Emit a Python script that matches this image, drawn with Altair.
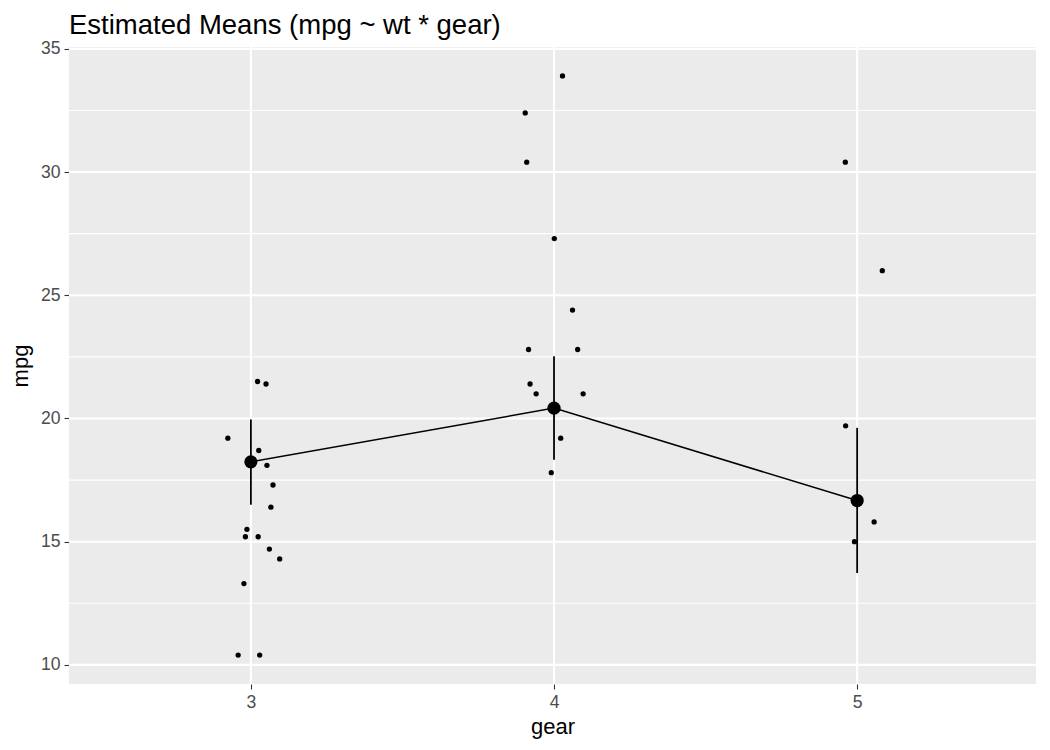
import altair as alt
import pandas as pd

# raw (jittered) observations
pt_gear = [2.924, 3.022, 3.050, 3.026, 3.053, 3.073, 3.066, 2.987, 2.982, 3.024, 3.061, 3.095, 2.977, 2.958, 3.029,
           4.028, 3.905, 3.910, 4.001, 4.061, 3.916, 4.078, 3.921, 3.941, 4.096, 4.022, 3.991,
           4.961, 5.083, 4.962, 5.056, 4.991]
pt_mpg = [19.2, 21.5, 21.4, 18.7, 18.1, 17.3, 16.4, 15.5, 15.2, 15.2, 14.7, 14.3, 13.3, 10.4, 10.4,
          33.9, 32.4, 30.4, 27.3, 24.4, 22.8, 22.8, 21.4, 21.0, 21.0, 19.2, 17.8,
          30.4, 26.0, 19.7, 15.8, 15.0]

# estimated means
m_gear = [3, 4, 5]
m_mean = [18.24, 20.42, 16.67]
m_low = [16.50, 18.33, 13.73]
m_high = [19.96, 22.53, 19.62]

y_major = [10, 15, 20, 25, 30, 35]
y_minor = [12.5, 17.5, 22.5, 27.5, 32.5]
x_major = [3, 4, 5]

pts = pd.DataFrame({"gear": pt_gear, "mpg": pt_mpg})
means = pd.DataFrame({"gear": m_gear, "mpg": m_mean, "lo": m_low, "hi": m_high})

xdom = [2.4, 5.59]
ydom = [9.225, 35.075]
xs = alt.Scale(domain=xdom, nice=False, zero=False)
ys = alt.Scale(domain=ydom, nice=False, zero=False)

FONT = "Liberation Sans"
xaxis = alt.Axis(values=x_major, format="d", grid=False, domain=False, tickColor="#333333", tickSize=5,
                 tickWidth=1.1, labelColor="#4d4d4d", labelFontSize=17.6, labelFont=FONT, labelPadding=4,
                 title="gear", titleFont=FONT, titleFontSize=22, titleFontWeight="normal",
                 titleColor="black", titlePadding=6)
yaxis = alt.Axis(values=y_major, format="d", grid=False, domain=False, tickColor="#333333", tickSize=5,
                 tickWidth=1.1, labelColor="#4d4d4d", labelFontSize=17.6, labelFont=FONT, labelPadding=4,
                 title="mpg", titleFont=FONT, titleFontSize=22, titleFontWeight="normal",
                 titleColor="black", titlePadding=8)

ymin_df = pd.DataFrame({"v": y_minor})
ymaj_df = pd.DataFrame({"v": y_major})
xmaj_df = pd.DataFrame({"v": x_major})

g1 = alt.Chart(ymin_df).mark_rule(color="white", strokeWidth=1.1).encode(y=alt.Y("v:Q", scale=ys, axis=yaxis))
g3 = alt.Chart(ymaj_df).mark_rule(color="white", strokeWidth=2.1).encode(y=alt.Y("v:Q", scale=ys))
g4 = alt.Chart(xmaj_df).mark_rule(color="white", strokeWidth=2.1).encode(x=alt.X("v:Q", scale=xs, axis=xaxis))

dots = alt.Chart(pts).mark_circle(color="black", opacity=1, size=28).encode(
    x=alt.X("gear:Q", scale=xs), y=alt.Y("mpg:Q", scale=ys))
line = alt.Chart(means).mark_line(color="black", strokeWidth=1.5).encode(
    x=alt.X("gear:Q", scale=xs), y=alt.Y("mpg:Q", scale=ys))
err = alt.Chart(means).mark_rule(color="black", strokeWidth=1.8).encode(
    x=alt.X("gear:Q", scale=xs), y=alt.Y("lo:Q", scale=ys), y2="hi:Q")
mpts = alt.Chart(means).mark_circle(color="black", opacity=1, size=175).encode(
    x=alt.X("gear:Q", scale=xs), y=alt.Y("mpg:Q", scale=ys))

chart = alt.layer(g1, g3, g4, err, line, dots, mpts).properties(
    width=967, height=637,
    background="white",
    autosize=alt.AutoSizeParams(type="none"),
    padding={"left": 61, "top": 39, "right": 6, "bottom": 64},
    title=alt.TitleParams("Estimated Means (mpg ~ wt * gear)", anchor="start", frame="group",
                          font=FONT, fontSize=27.5, fontWeight="normal", color="black",
                          offset=0),
).configure_view(fill="#ebebeb", strokeWidth=0)

chart.save("out.html", embed_options={"renderer": "svg", "actions": False})
